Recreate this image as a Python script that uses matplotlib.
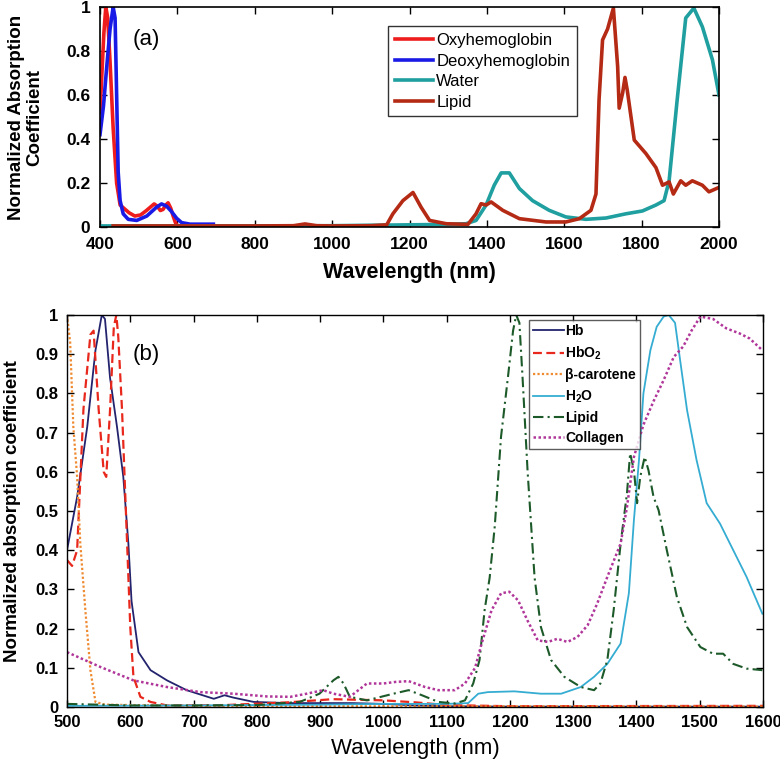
"""Normalized absorption spectra of tissue chromophores, two panels."""
import matplotlib
matplotlib.use("Agg")
import matplotlib.pyplot as plt

plt.rcParams["font.family"] = ["Liberation Sans", "DejaVu Sans"]
plt.rcParams["mathtext.fontset"] = "custom"
plt.rcParams["mathtext.rm"] = "Liberation Sans"
plt.rcParams["mathtext.bf"] = "Liberation Sans:bold"

# ---- panel (a) data: wavelength (nm) / normalized absorption ----
oxy_nm = [400, 405, 410, 415, 420, 426, 434, 443, 452, 462, 475, 490, 505, 520, 530,
          540, 548, 556, 563, 570, 576, 583, 589, 595, 600, 610, 650]
oxy = [0.52, 0.7, 0.88, 1.0, 0.95, 0.75, 0.45, 0.2, 0.1, 0.085, 0.065, 0.05, 0.055, 0.075, 0.09,
       0.105, 0.095, 0.075, 0.08, 0.1, 0.11, 0.085, 0.05, 0.02, 0.005, 0.0, 0.0]

deoxy_nm = [400, 409, 417, 426, 434, 439, 443, 447, 452, 460, 473, 495, 521, 546, 559,
            572, 585, 598, 611, 633, 693]
deoxy = [0.42, 0.55, 0.72, 0.9, 1.0, 0.95, 0.6, 0.25, 0.12, 0.06, 0.035, 0.03, 0.05, 0.09, 0.105,
         0.095, 0.07, 0.04, 0.02, 0.013, 0.013]

water_nm = [400, 600, 800, 1000, 1100, 1200, 1300, 1346, 1372, 1398, 1419, 1437, 1458, 1484,
            1518, 1561, 1604, 1656, 1708, 1759, 1802, 1837, 1858, 1871, 1892, 1914, 1935,
            1957, 1983, 2000]
water = [0.005, 0.005, 0.005, 0.006, 0.008, 0.01, 0.012, 0.015, 0.03, 0.1, 0.19, 0.246, 0.246,
         0.175, 0.12, 0.076, 0.046, 0.035, 0.041, 0.06, 0.073, 0.1, 0.12, 0.21, 0.58, 0.95,
         0.995, 0.91, 0.76, 0.6]

lipid_nm = [434, 600, 800, 900, 930, 960, 1000, 1100, 1141, 1157, 1183, 1209, 1230, 1252,
            1295, 1351, 1372, 1385, 1398, 1411, 1441, 1484, 1553, 1604, 1639, 1669, 1682,
            1690, 1699, 1712, 1727, 1738, 1742, 1751, 1757, 1763, 1781, 1811, 1837, 1854,
            1871, 1882, 1901, 1914, 1931, 1957, 1974, 2000]
lipid = [0.005, 0.005, 0.005, 0.006, 0.014, 0.006, 0.005, 0.006, 0.01, 0.06, 0.12, 0.157,
         0.09, 0.03, 0.015, 0.012, 0.06, 0.106, 0.1, 0.114, 0.076, 0.038, 0.023, 0.023, 0.038,
         0.076, 0.15, 0.58, 0.85, 0.9, 0.995, 0.73, 0.54, 0.61, 0.68, 0.62, 0.395, 0.334,
         0.27, 0.19, 0.205, 0.15, 0.21, 0.19, 0.21, 0.19, 0.16, 0.18]

# ---- panel (b) data ----
hb_nm = [500, 516, 532, 545, 555, 560, 568, 579, 589, 597, 602, 613, 632, 658, 689, 732,
         749, 763, 795, 850, 950, 1000, 1050, 1100, 1200, 1600]
hb = [0.40, 0.536, 0.715, 0.91, 1.0, 0.99, 0.84, 0.715, 0.587, 0.417, 0.27, 0.14, 0.094,
      0.068, 0.043, 0.021, 0.03, 0.024, 0.013, 0.01, 0.01, 0.008, 0.004, 0.002, 0.001, 0.001]

hbo2_nm = [500, 508, 516, 526, 537, 542, 550, 558, 562, 568, 574, 578, 581, 587, 595, 600,
           605, 616, 632, 658, 750, 850, 920, 1000, 1050, 1100, 1200, 1600]
hbo2 = [0.375, 0.36, 0.40, 0.76, 0.95, 0.96, 0.76, 0.60, 0.587, 0.757, 0.97, 1.0, 0.945,
        0.757, 0.417, 0.204, 0.077, 0.026, 0.013, 0.004, 0.005, 0.012, 0.02, 0.017, 0.012,
        0.005, 0.002, 0.003]

beta_nm = [500, 505, 510, 516, 521, 529, 537, 545, 560, 700, 900, 1600]
beta = [1.0, 0.93, 0.715, 0.587, 0.417, 0.247, 0.094, 0.013, 0.006, 0.003, 0.002, 0.001]

h2o_nm = [500, 700, 900, 1000, 1100, 1134, 1150, 1165, 1207, 1249, 1281, 1312, 1333, 1354,
          1375, 1388, 1396, 1404, 1411, 1422, 1432, 1443, 1451, 1461, 1469, 1480, 1495,
          1511, 1532, 1553, 1574, 1599]
h2o = [0.003, 0.004, 0.006, 0.008, 0.008, 0.01, 0.034, 0.038, 0.04, 0.034, 0.034, 0.051,
       0.077, 0.11, 0.162, 0.29, 0.477, 0.63, 0.80, 0.91, 0.97, 0.996, 1.0, 0.98, 0.885,
       0.757, 0.63, 0.52, 0.468, 0.40, 0.332, 0.238]

lipid_b_nm = [500, 600, 700, 800, 868, 899, 921, 929, 937, 947, 974, 1016, 1040, 1061, 1087,
              1113, 1129, 1142, 1152, 1160, 1168, 1176, 1186, 1197, 1205, 1210, 1215, 1220,
              1228, 1239, 1249, 1265, 1286, 1312, 1333, 1343, 1354, 1364, 1375, 1385, 1390,
              1396, 1401, 1406, 1413, 1419, 1427, 1435, 1448, 1464, 1480, 1501, 1521, 1537,
              1553, 1574, 1599]
lipid_b = [0.008, 0.004, 0.004, 0.005, 0.013, 0.034, 0.068, 0.077, 0.06, 0.026, 0.017, 0.034,
           0.043, 0.03, 0.013, 0.009, 0.017, 0.06, 0.12, 0.247, 0.33, 0.46, 0.69, 0.843, 0.96,
           1.0, 0.98, 0.84, 0.60, 0.33, 0.204, 0.12, 0.077, 0.051, 0.043, 0.06, 0.12, 0.247,
           0.417, 0.545, 0.647, 0.604, 0.52, 0.587, 0.638, 0.604, 0.536, 0.502, 0.40, 0.28,
           0.204, 0.153, 0.136, 0.136, 0.11, 0.098, 0.094]

collagen_nm = [500, 553, 605, 658, 711, 763, 816, 853, 879, 905, 921, 947, 974, 1000, 1019,
               1040, 1066, 1087, 1113, 1129, 1145, 1155, 1171, 1186, 1199, 1213, 1228, 1244,
               1260, 1275, 1291, 1307, 1323, 1338, 1354, 1375, 1385, 1396, 1411, 1427, 1443,
               1459, 1474, 1487, 1501, 1521, 1542, 1563, 1579, 1599]
collagen = [0.14, 0.102, 0.068, 0.051, 0.038, 0.034, 0.027, 0.026, 0.034, 0.043, 0.034,
            0.026, 0.06, 0.06, 0.064, 0.066, 0.051, 0.043, 0.043, 0.06, 0.10, 0.16, 0.247,
            0.29, 0.294, 0.272, 0.22, 0.17, 0.166, 0.174, 0.166, 0.179, 0.209, 0.264, 0.332,
            0.417, 0.51, 0.638, 0.72, 0.78, 0.834, 0.893, 0.92, 0.96, 0.996, 0.99, 0.966,
            0.953, 0.94, 0.91]

a_xticks = list(range(400, 2001, 200))
a_yticks = [0, 0.2, 0.4, 0.6, 0.8, 1]
b_xticks = list(range(500, 1601, 100))
b_yticks = [0, 0.1, 0.2, 0.3, 0.4, 0.5, 0.6, 0.7, 0.8, 0.9, 1]


def _fmt(v):
    return "0" if v == 0 else ("1" if v == 1 else f"{v:g}")


fig = plt.figure(figsize=(7.8, 7.67), dpi=100)

# ---------------- panel (a) ----------------
ax = fig.add_axes([0.1282, 0.7040, 0.7936, 0.2869])
ax.plot(oxy_nm, oxy, color="#ee1c1c", lw=2.6, label="Oxyhemoglobin")
ax.plot(deoxy_nm, deoxy, color="#1a1ae6", lw=2.6, label="Deoxyhemoglobin")
ax.plot(water_nm, water, color="#1f9f9f", lw=2.6, label="Water")
ax.plot(lipid_nm, lipid, color="#b42a14", lw=2.6, label="Lipid")
ax.set_xlim(400, 2000)
ax.set_ylim(0, 1)
ax.set_xticks(a_xticks)
ax.set_yticks(a_yticks)
ax.set_yticklabels([_fmt(v) for v in a_yticks])
ax.tick_params(direction="in", top=True, right=True, length=5, width=1, labelsize=12.5, pad=7)
for lbl in ax.get_xticklabels() + ax.get_yticklabels():
    lbl.set_fontweight("bold")
for s in ax.spines.values():
    s.set_linewidth(1.2)
ax.set_xlabel("Wavelength (nm)", fontsize=15.5, fontweight="bold")
ax.xaxis.set_label_coords(0.5, -0.16)
ax.set_ylabel("Normalized Absorption\nCoefficient", fontsize=13.5, fontweight="bold",
              linespacing=1.05)
ax.yaxis.set_label_coords(-0.092, 0.5)
ax.text(0.052, 0.85, "(a)", transform=ax.transAxes, fontsize=16, va="center", ha="left")
leg = ax.legend(loc="upper left", bbox_to_anchor=(0.465, 0.912), borderaxespad=0,
                fontsize=12, frameon=True, fancybox=False, handlelength=2.3,
                handletextpad=0.2, labelspacing=0.33, borderpad=0.4)
leg.get_frame().set_edgecolor("black")
leg.get_frame().set_linewidth(1.0)

# ---------------- panel (b) ----------------
bx = fig.add_axes([0.0859, 0.0782, 0.8923, 0.5111])
bx.plot(hb_nm, hb, color="#23236e", lw=1.3, ls="-", label="Hb")
bx.plot(hbo2_nm, hbo2, color="#e8281c", lw=1.6, ls=(0, (4, 2)), label="HbO$_\\mathregular{2}$")
bx.plot(beta_nm, beta, color="#ef8a30", lw=1.6, ls=(0, (1, 1)), label="β-carotene")
bx.plot(h2o_nm, h2o, color="#35acd2", lw=1.3, ls="-", label="H$_\\mathregular{2}$O")
bx.plot(lipid_b_nm, lipid_b, color="#1d5a2a", lw=1.5, ls=(0, (5, 2, 1, 2)), label="Lipid")
bx.plot(collagen_nm, collagen, color="#b0369a", lw=1.8, ls=(0, (1, 1)), label="Collagen")
bx.set_xlim(500, 1600)
bx.set_ylim(0, 1)
bx.set_xticks(b_xticks)
bx.set_yticks(b_yticks)
bx.set_yticklabels([_fmt(v) for v in b_yticks])
bx.tick_params(direction="in", top=True, right=True, length=5, width=1, labelsize=12, pad=6)
for lbl in bx.get_xticklabels() + bx.get_yticklabels():
    lbl.set_fontweight("bold")
for s in bx.spines.values():
    s.set_linewidth(1.0)
bx.set_xlabel("Wavelength (nm)", fontsize=16)
bx.xaxis.set_label_coords(0.5, -0.078)
bx.set_ylabel("Normalized absorption coefficient", fontsize=13.5, fontweight="bold")
bx.yaxis.set_label_coords(-0.066, 0.5)
bx.text(0.095, 0.90, "(b)", transform=bx.transAxes, fontsize=16, va="center", ha="left")
leg2 = bx.legend(loc="upper left", bbox_to_anchor=(0.664, 0.987), borderaxespad=0,
                 prop={"size": 10, "weight": "bold"},
                 frameon=True, fancybox=False, handlelength=2.2, handletextpad=0.1,
                 labelspacing=0.45, borderpad=0.3)
leg2.get_frame().set_edgecolor("#333333")
leg2.get_frame().set_linewidth(1.0)

fig.savefig("out.png", dpi=100)
